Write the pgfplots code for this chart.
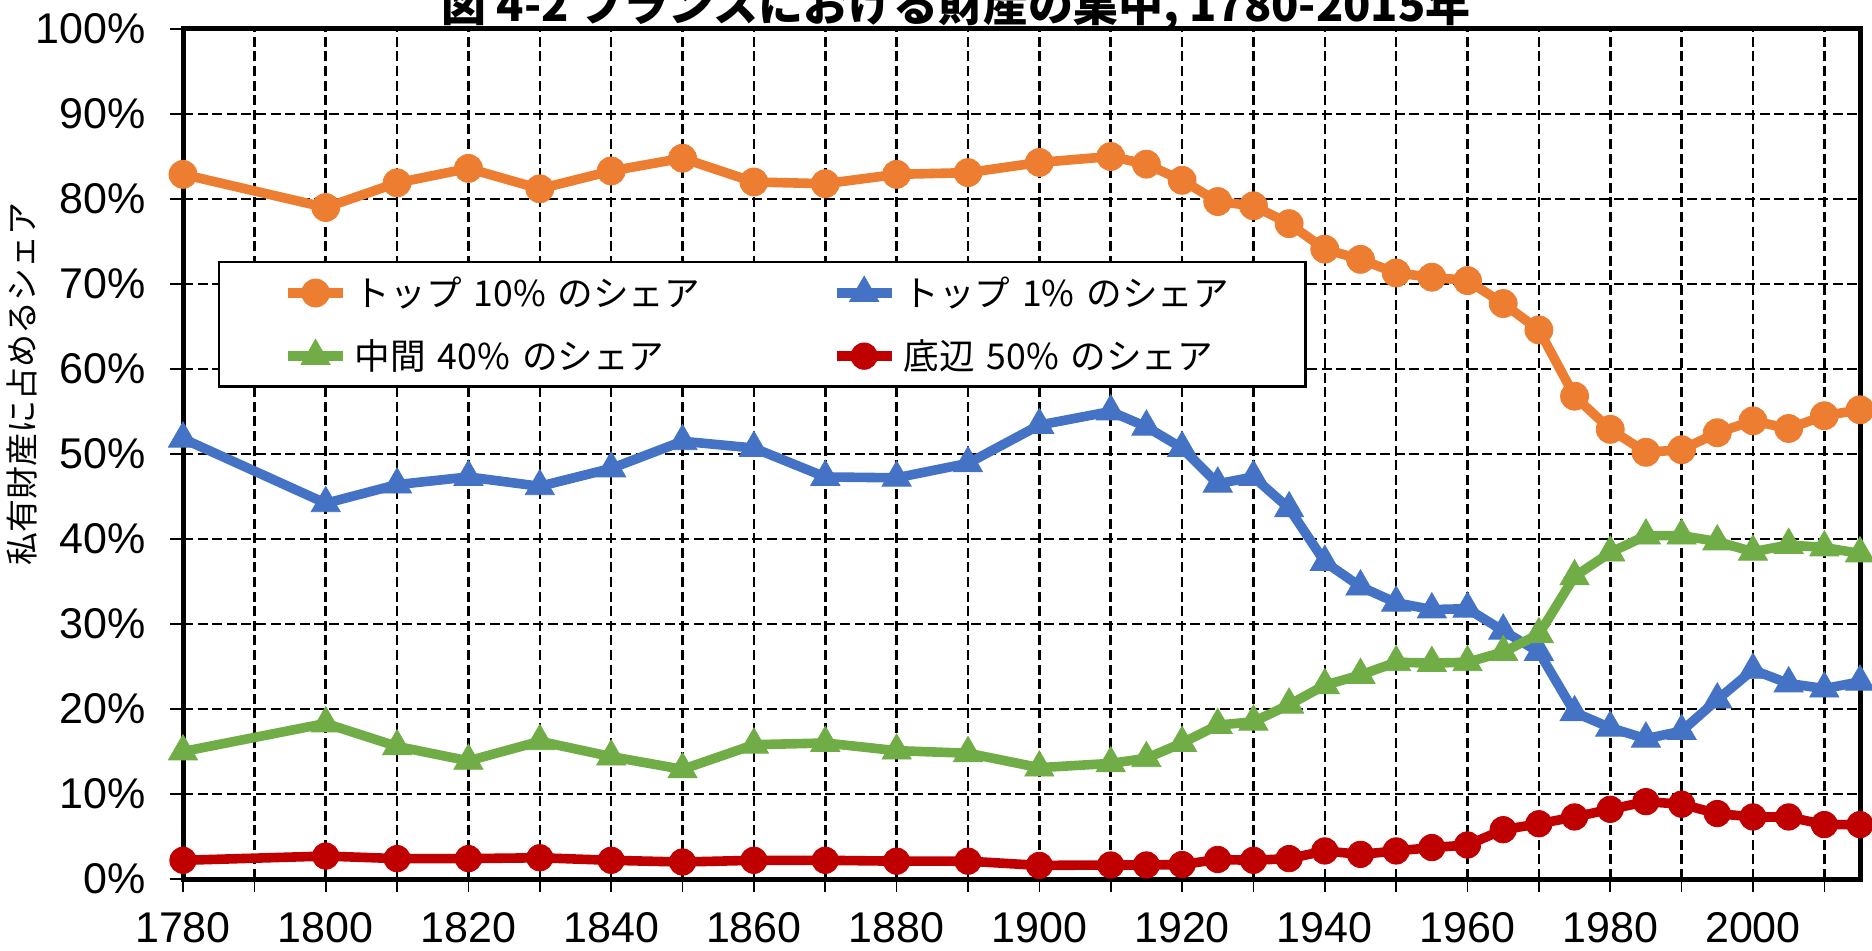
\documentclass[border=0pt]{standalone}
\usepackage{fontspec}
\setmainfont{Liberation Sans}
\newfontfamily\cjk{Noto Sans CJK JP}
\usepackage{pgfplots}
\pgfplotsset{compat=1.18}
\definecolor{cTen}{HTML}{ED7D31}
\definecolor{cOne}{HTML}{4472C4}
\definecolor{cMid}{HTML}{70AD47}
\definecolor{cBot}{HTML}{C00000}

\pgfplotstableread{
year top10 top1 mid40 bot50
1780 82.9 51.8 15.0 2.2
1800 79.0 44.2 18.3 2.7
1810 81.9 46.4 15.6 2.4
1820 83.6 47.3 13.9 2.4
1830 81.2 46.2 16.2 2.5
1840 83.3 48.3 14.4 2.2
1850 84.8 51.5 12.9 2.0
1860 82.0 50.7 15.8 2.2
1870 81.8 47.3 16.0 2.2
1880 82.9 47.2 15.1 2.1
1890 83.1 48.9 14.8 2.1
1900 84.3 53.4 13.1 1.6
1910 85.0 55.0 13.6 1.65
1915 84.1 53.2 14.2 1.65
1920 82.2 50.7 16.0 1.7
1925 79.7 46.5 18.1 2.3
1930 79.2 47.3 18.5 2.2
1935 77.1 43.6 20.5 2.4
1940 74.1 37.3 22.8 3.3
1945 72.9 34.4 24.0 2.9
1950 71.3 32.5 25.5 3.3
1955 70.8 31.7 25.4 3.7
1960 70.4 31.8 25.5 4.0
1965 67.7 29.2 26.7 5.8
1970 64.6 26.7 28.8 6.5
1975 56.8 19.6 35.6 7.3
1980 52.9 17.8 38.4 8.2
1985 50.2 16.5 40.4 9.1
1990 50.5 17.4 40.4 8.8
1995 52.5 21.1 39.7 7.7
2000 53.9 24.6 38.5 7.3
2005 53.0 23.0 39.3 7.3
2010 54.5 22.4 39.0 6.4
2015 55.2 23.2 38.3 6.4
}\datatable

\begin{document}
\begin{tikzpicture}
\begin{scope}
\clip (0pt,0pt) rectangle (936pt,475pt);
\begin{axis}[
  at={(91.5pt,35.5pt)}, anchor=south west,
  scale only axis, width=838.5pt, height=425pt,
  xmin=1780, xmax=2015, ymin=0, ymax=100,
  xtick={1780,1800,...,2000},
  minor xtick={1790,1810,...,2010},
  ytick={0,10,...,100},
  yticklabel={\pgfmathprintnumber[assume math mode=true]{\tick}\%},
  x tick label style={/pgf/number format/1000 sep={}, /pgf/number format/assume math mode=true},
  xtick pos=bottom, ytick pos=left,
  grid=both,
  major grid style={black, line width=1.3pt, dash pattern=on 5pt off 2.3pt},
  minor grid style={black, line width=1.3pt, dash pattern=on 5pt off 2.3pt},
  axis line style={line width=2.5pt},
  tick align=outside, major tick length=6.5pt, minor tick length=6.5pt,
  tick style={black, line width=0.8pt},
  tick label style={font=\fontsize{21.5}{21.5}\selectfont},
  xticklabel style={anchor=north, inner sep=0pt, yshift=-10pt},
  yticklabel style={anchor=east, inner sep=0pt, xshift=-12pt},
  clip=false,
  legend columns=2,
  legend cell align=left,
  legend style={at={(0.0209,0.727)}, anchor=north west, draw=black, line width=1.2pt, fill=white,
    font=\cjk\fontsize{17.8}{17.8}\selectfont,
    inner xsep=32pt, inner ysep=7pt, row sep=15pt,
    nodes={inner sep=0pt},
    /tikz/every odd column/.append style={column sep=3.5pt},
    /tikz/column 2/.style={nodes={text width=238.5pt}},
    /tikz/column 4/.style={nodes={text width=169pt}}},
  legend image code/.code={\draw[mark repeat=2,mark phase=2] plot coordinates {(0pt,0pt) (13.75pt,0pt) (27.5pt,0pt)};},
]
\addplot[cTen, line width=4.8pt, mark=*, mark size=7pt, mark options={solid, line width=0.4pt, fill=cTen}] table[x=year,y=top10] {\datatable};
\addlegendentry{トップ 10\% のシェア}
\addplot[cOne, line width=4.8pt, mark=triangle*, mark size=8.4pt, mark options={solid, line width=0.4pt, fill=cOne}] table[x=year,y=top1] {\datatable};
\addlegendentry{トップ 1\% のシェア}
\addplot[cMid, line width=4.8pt, mark=triangle*, mark size=8.4pt, mark options={solid, line width=0.4pt, fill=cMid}] table[x=year,y=mid40] {\datatable};
\addlegendentry{中間 40\% のシェア}
\addplot[cBot, line width=4.8pt, mark=*, mark size=6.6pt, mark options={solid, line width=0.4pt, fill=cBot}] table[x=year,y=bot50] {\datatable};
\addlegendentry{底辺 50\% のシェア}
\end{axis}
\node[anchor=base, font=\cjk\bfseries\fontsize{22.5}{22.5}\selectfont] at (478pt,464pt) {図 4-2 フランスにおける財産の集中, 1780-2015年};
\node[rotate=90, font=\cjk\fontsize{16.5}{16.5}\selectfont] at (11pt,283pt) {私有財産に占めるシェア};
\end{scope}
\pgfresetboundingbox
\path[use as bounding box] (0pt,0pt) rectangle (936pt,475pt);
\end{tikzpicture}
\end{document}
